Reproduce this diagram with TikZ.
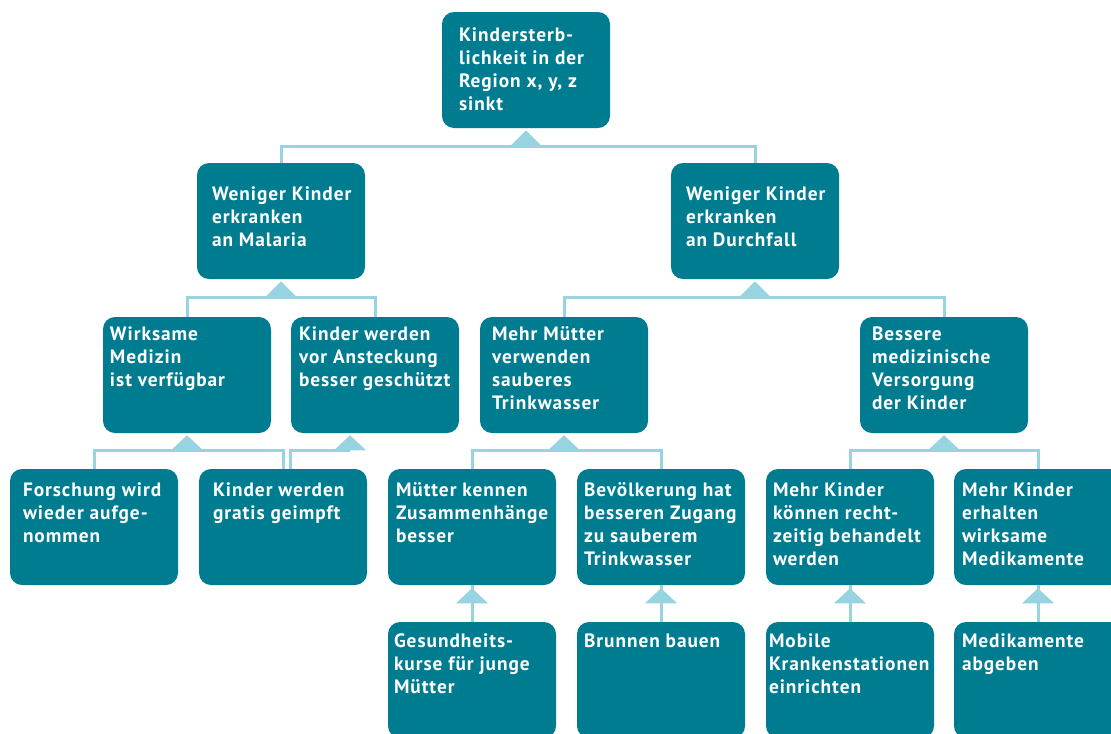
\documentclass[tikz,border=0pt]{standalone}
\usepackage{fontspec}
\setmainfont{PT Sans}[LetterSpace=5]
\usepackage{xcolor}
\definecolor{boxteal}{HTML}{007C91}
\definecolor{linkblue}{HTML}{98D3E2}
\usetikzlibrary{calc}

\tikzset{padx/.store in=\padx, pady/.store in=\pady, padx=6pt, pady=9pt}

\begin{document}
\begin{tikzpicture}[x=0.75pt, y=-0.75pt,
      goalbox/.style={rectangle, rounded corners=9pt, fill=boxteal, text=white, inner sep=0pt,
        font=\bfseries\fontsize{14.5pt}{17.25pt}\selectfont,
        execute at begin node={\begin{minipage}[t][87pt][t]{126pt}\raggedright\leftskip=\padx\rightskip=0pt plus 1fil\vspace*{\pady}},
        execute at end node={\end{minipage}}},
      link/.style={draw=linkblue, line width=2.25pt},
      tri/.style={fill=linkblue}
    ]
      \useasboundingbox (0,0) rectangle (1111,733);
      \node[goalbox, padx=12.75pt, pady=12pt] (goal) at (526,70) {Kindersterb-\\lichkeit in der\\Region x, y, z\\sinkt};
      \node[goalbox, padx=11.25pt, pady=18pt] (malaria) at (281,221) {Weniger Kinder\\erkranken\\an Malaria};
      \node[goalbox, padx=11.25pt, pady=18pt] (durchfall) at (755,221) {Weniger Kinder\\erkranken\\an Durchfall};
      \node[goalbox, padx=5.25pt, pady=7.5pt] (medizin) at (187,375) {Wirksame\\Medizin\\ist verfügbar};
      \node[goalbox, padx=6pt, pady=7.5pt] (schutz) at (375,375) {Kinder werden\\vor Ansteckung\\besser geschützt};
      \node[goalbox, padx=9pt, pady=7.5pt] (wasser) at (564,375) {Mehr Mütter\\verwenden\\sauberes\\Trinkwasser};
      \node[goalbox, padx=9pt, pady=7.5pt] (versorgung) at (944,375) {Bessere\\medizinische\\Versorgung\\der Kinder};
      \node[goalbox, padx=9.75pt, pady=10.5pt] (forschung) at (94,527) {Forschung wird\\wieder aufge-\\nommen};
      \node[goalbox, padx=10.5pt, pady=10.5pt] (impfung) at (283,527) {Kinder werden\\gratis geimpft};
      \node[goalbox, padx=6pt, pady=10.5pt] (wissen) at (472,527) {Mütter kennen\\Zusammenhänge\\besser};
      \node[goalbox, padx=5.25pt, pady=10.5pt] (zugang) at (661,527) {Bevölkerung hat\\besseren Zugang\\zu sauberem\\Trinkwasser};
      \node[goalbox, padx=5.25pt, pady=10.5pt] (behandlung) at (850,527) {Mehr Kinder\\können recht-\\zeitig behandelt\\werden};
      \node[goalbox, padx=6pt, pady=10.5pt] (medikamente) at (1038,527) {Mehr Kinder\\erhalten\\wirksame\\Medikamente};
      \node[goalbox, padx=4.5pt, pady=9pt] (kurse) at (472,680) {Gesundheits-\\kurse für junge\\Mütter};
      \node[goalbox, padx=5.25pt, pady=9pt] (brunnen) at (661,680) {Brunnen bauen};
      \node[goalbox, padx=2.25pt, pady=9pt] (stationen) at (850,680) {Mobile\\Krankenstationen\\einrichten};
      \node[goalbox, padx=6pt, pady=9pt] (abgabe) at (1038,680) {Medikamente\\abgeben};
      \draw[link] (malaria.north) |- ($(goal.south)+(0,18)$) -| (durchfall.north);
      \draw[link] (medizin.north) |- ($(malaria.south)+(0,18)$) -| (schutz.north);
      \draw[link] (wasser.north) |- ($(durchfall.south)+(0,18)$) -| (versorgung.north);
      \draw[link] (forschung.north) |- ($(medizin.south)+(0,17)$) -| (impfung.north);
      \draw[link] ($(schutz.south)+(-25,17)$) -| ($(impfung.north)+(7,0)$);
      \draw[link] (wissen.north) |- ($(wasser.south)+(0,17)$) -| (zugang.north);
      \draw[link] (behandlung.north) |- ($(versorgung.south)+(0,17)$) -| (medikamente.north);
      \draw[link] (kurse.north) -- (wissen.south);
      \draw[link] (brunnen.north) -- (zugang.south);
      \draw[link] (stationen.north) -- (behandlung.south);
      \draw[link] (abgabe.north) -- (medikamente.south);
      \fill[tri] ($(goal.south)+(0,2)$) -- ++(-16,16) -- ++(32,0) -- cycle;
      \fill[tri] ($(malaria.south)+(0,2)$) -- ++(-16,16) -- ++(32,0) -- cycle;
      \fill[tri] ($(durchfall.south)+(0,2)$) -- ++(-16,16) -- ++(32,0) -- cycle;
      \fill[tri] ($(medizin.south)+(0,2)$) -- ++(-16,15) -- ++(32,0) -- cycle;
      \fill[tri] ($(schutz.south)+(-25,2)$) -- ++(-16,15) -- ++(32,0) -- cycle;
      \fill[tri] ($(wasser.south)+(0,2)$) -- ++(-16,15) -- ++(32,0) -- cycle;
      \fill[tri] ($(versorgung.south)+(0,2)$) -- ++(-16,15) -- ++(32,0) -- cycle;
      \fill[tri] ($(wissen.south)+(0,3)$) -- ++(-16,15) -- ++(32,0) -- cycle;
      \fill[tri] ($(zugang.south)+(0,3)$) -- ++(-16,15) -- ++(32,0) -- cycle;
      \fill[tri] ($(behandlung.south)+(0,3)$) -- ++(-16,15) -- ++(32,0) -- cycle;
      \fill[tri] ($(medikamente.south)+(0,3)$) -- ++(-16,15) -- ++(32,0) -- cycle;
    \end{tikzpicture}
\end{document}
